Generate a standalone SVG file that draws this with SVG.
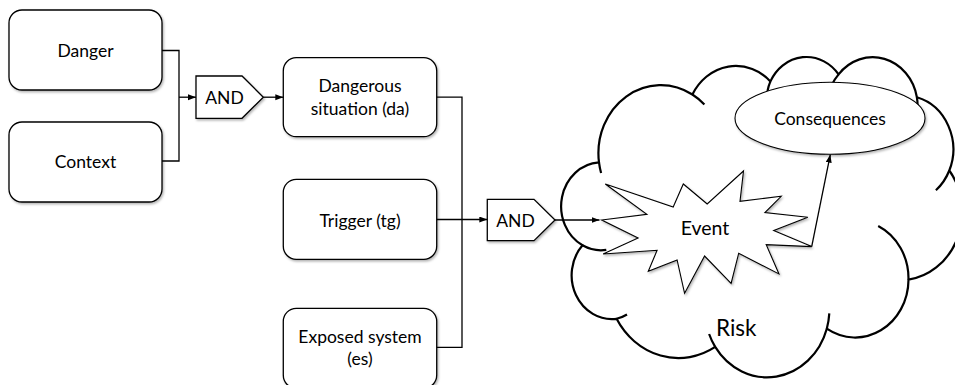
<svg xmlns="http://www.w3.org/2000/svg" width="955" height="385" viewBox="0 0 955 385">
<style>
.box{fill:#fff;stroke:#000;stroke-width:1.3;filter:url(#sh)}
.t{font-family:Lato,"Open Sans","Liberation Sans",sans-serif;font-size:17.5px;fill:#000;text-anchor:middle}
.cn{fill:none;stroke:#000;stroke-width:1.3}
.cloud{fill:#fff;stroke:#000;stroke-width:2.2;stroke-linejoin:round}
.inner{fill:none;stroke:#000;stroke-width:2.2;stroke-linecap:butt}
</style>
<defs>
<filter id="sh" x="-10%" y="-10%" width="130%" height="140%">
<feDropShadow dx="1.2" dy="1.6" stdDeviation="1" flood-color="#000" flood-opacity="0.3"/>
</filter>
<marker id="ah" markerUnits="userSpaceOnUse" markerWidth="9" markerHeight="7" refX="8" refY="3" orient="auto">
<path d="M0,0 L8,3 L0,6 Z" fill="#000"/>
</marker>
</defs>
<rect width="955" height="385" fill="#fff"/>

<g id="node-risk">
<path class="cloud" d="M599.0 162.4 A62.37 68.07 0 0 1 692.4 94.5 A49.26 53.83 0 0 1 770.4 81.4 A40.32 44.04 0 0 1 838.6 74.4 A44.86 48.85 0 0 1 916.9 97.3 A49.26 53.87 0 0 1 949.3 170.5 A62.57 68.30 0 0 1 908.5 279.7 A53.43 58.27 0 0 1 826.8 328.7 A62.36 68.26 0 0 1 715.2 346.9 A71.30 78.10 0 0 1 616.6 318.8 A40.27 43.84 0 0 1 582.5 245.3 A40.13 44.04 0 0 1 599.0 162.4 Z"/>
<path class="inner" d="M601.1 173.0 A62.37 68.07 0 0 1 599.0 162.4 M606.3 249.9 A40.13 44.04 0 0 1 582.5 245.3 M627.0 314.5 A40.27 43.84 0 0 1 616.6 318.8 M715.2 346.9 A62.36 68.26 0 0 1 709.1 334.0 M829.3 313.4 A62.36 68.26 0 0 1 826.8 328.7 M878.2 226.0 A53.43 58.27 0 0 1 908.5 279.7 M949.3 170.5 A49.26 53.87 0 0 1 935.9 190.3 M916.9 97.3 A44.86 48.85 0 0 1 917.6 106.7 M831.6 85.3 A44.86 48.85 0 0 1 838.6 74.4 M767.5 91.0 A40.32 44.04 0 0 1 770.4 81.4 M692.4 94.5 A62.37 68.07 0 0 1 704.4 104.5"/>
<text class="t" x="736.3" y="336" style="font-size:22.5px">Risk</text>
</g>

<g id="node-event">
<polygon points="707.2,204.0 683.3,184.0 673.2,207.0 605.3,184.0 646.9,214.3 601.7,220.0 638.1,238.0 603.1,254.0 657.1,250.3 648.3,271.2 677.1,259.9 684.6,293.3 704.6,256.0 731.1,283.3 738.7,253.2 778.9,273.9 766.2,244.6 811.7,246.6 773.7,230.6 807.8,217.3 764.9,212.6 781.2,196.3 740.0,201.3 743.5,171.0" fill="#fff" stroke="#000" stroke-width="1.1" stroke-linejoin="miter" filter="url(#sh)"/>
<text class="t" x="705" y="235" style="font-size:19.5px">Event</text>
</g>

<g id="node-consequences">
<ellipse cx="830" cy="118.3" rx="95" ry="36" fill="#fff" stroke="#000" stroke-width="1.1" filter="url(#sh)"/>
<text class="t" x="830" y="125">Consequences</text>
</g>

<g id="node-danger">
<rect class="box" x="9" y="10" width="153" height="80" rx="13"/>
<text class="t" x="85.5" y="57">Danger</text>
</g>

<g id="node-context">
<rect class="box" x="9" y="122" width="153" height="80" rx="13"/>
<text class="t" x="85.5" y="168">Context</text>
</g>

<g id="node-and1">
<polygon class="box" points="196,76 242,76 263.3,97.2 242,118.3 196,118.3"/>
<text class="t" x="224.5" y="104">AND</text>
</g>

<g id="node-dangerous">
<rect class="box" x="283.3" y="57.7" width="153.4" height="79" rx="13"/>
<text class="t" x="360" y="92.3">Dangerous</text>
<text class="t" x="360" y="115">situation (da)</text>
</g>

<g id="node-trigger">
<rect class="box" x="283.3" y="179.3" width="153.4" height="80" rx="13"/>
<text class="t" x="360" y="226.5">Trigger (tg)</text>
</g>

<g id="node-exposed">
<rect class="box" x="283.3" y="308.3" width="153.4" height="80" rx="13"/>
<text class="t" x="360" y="342.7">Exposed system</text>
<text class="t" x="360" y="365">(es)</text>
</g>

<g id="node-and2">
<polygon class="box" points="487.3,199.3 534,199.3 555,220 534,240.7 487.3,240.7"/>
<text class="t" x="515.5" y="226.7">AND</text>
</g>

<g id="connectors">
<polyline class="cn" points="162,50.5 179,50.5 179,161 162,161"/>
<line class="cn" x1="179" y1="97.2" x2="196" y2="97.2" marker-end="url(#ah)"/>
<line class="cn" x1="263.3" y1="97.2" x2="283.3" y2="97.2" marker-end="url(#ah)"/>
<polyline class="cn" points="436.7,97.2 462,97.2 462,347.3 436.7,347.3"/>
<line class="cn" x1="436.7" y1="219.5" x2="487.3" y2="219.5" marker-end="url(#ah)"/>
<line class="cn" x1="555" y1="220" x2="599.5" y2="220" marker-end="url(#ah)"/>
<line class="cn" x1="811.7" y1="246.6" x2="830.3" y2="154.6" marker-end="url(#ah)"/>
</g>
</svg>
